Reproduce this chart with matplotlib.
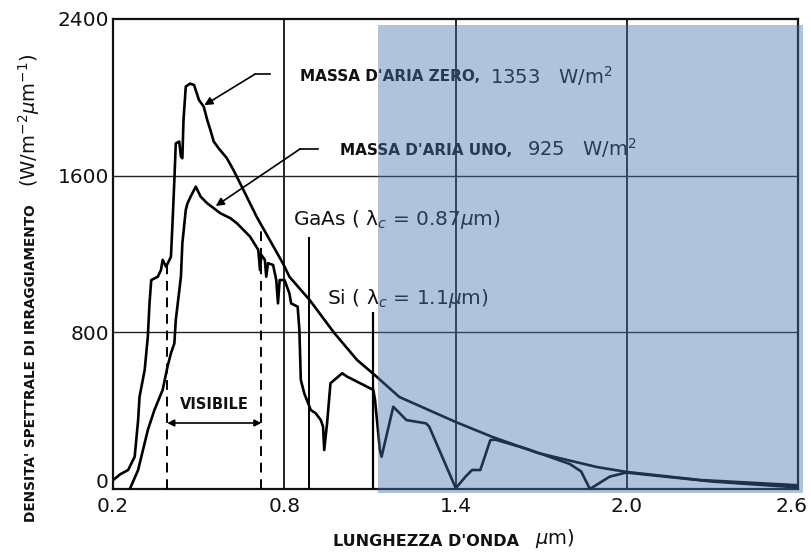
import matplotlib
matplotlib.use("Agg")
import numpy as np
import matplotlib.pyplot as plt
from matplotlib.patches import Rectangle
import matplotlib.transforms as mtransforms

# ---------------- data ----------------
am0_wl = [0.201, 0.225, 0.253, 0.276, 0.288, 0.293, 0.311, 0.322, 0.328, 0.334,
          0.357, 0.368, 0.374, 0.386, 0.403, 0.409, 0.415, 0.420, 0.432, 0.438,
          0.443, 0.447, 0.455, 0.470, 0.484, 0.501, 0.518, 0.530, 0.541, 0.553,
          0.570, 0.599, 0.622, 0.657, 0.703, 0.749, 0.795, 0.818, 0.889, 0.975,
          1.055, 1.117, 1.203, 1.401, 1.529, 1.688, 1.896, 2.000, 2.257, 2.590, 2.600]
am0_val = [46, 75, 97, 165, 352, 471, 608, 778, 950, 1067,
           1084, 1118, 1170, 1135, 1186, 1374, 1578, 1765, 1774, 1697,
           1689, 1885, 2055, 2070, 2063, 1987, 1952, 1885, 1834, 1774,
           1740, 1689, 1629, 1527, 1391, 1272, 1153, 1084, 965, 797,
           659, 582, 470, 342, 266, 184, 112, 87, 46, 20, 18]

am1_wl = [0.259, 0.288, 0.322, 0.345, 0.374, 0.391, 0.403, 0.415, 0.420, 0.438,
          0.443, 0.455, 0.461, 0.472, 0.490, 0.507, 0.530, 0.553, 0.576, 0.611,
          0.634, 0.680, 0.709, 0.715, 0.720, 0.732, 0.737, 0.743, 0.761, 0.772,
          0.778, 0.784, 0.801, 0.818, 0.824, 0.847, 0.853, 0.858, 0.870, 0.893,
          0.910, 0.928, 0.936, 0.940, 0.950, 0.962, 1.003, 1.020, 1.066, 1.112,
          1.118, 1.135, 1.141, 1.182, 1.228, 1.297, 1.308, 1.401, 1.435, 1.458,
          1.487, 1.522, 1.540, 1.650, 1.800, 1.840, 1.871, 1.940, 1.998, 2.300, 2.600]
am1_val = [0, 97, 301, 403, 506, 625, 693, 744, 863, 1084,
           1255, 1425, 1459, 1493, 1544, 1493, 1459, 1434, 1408, 1383,
           1357, 1289, 1221, 1118, 1195, 1170, 1084, 1153, 1144, 1067,
           948, 1067, 1067, 999, 948, 931, 812, 557, 489, 403,
           387, 352, 318, 199, 335, 540, 591, 574, 540, 506,
           455, 199, 165, 420, 352, 335, 318, 4, 63, 97,
           97, 250, 252, 205, 128, 90, 0, 63, 84, 38, 8]

x_ticks = [0.2, 0.8, 1.4, 2.0, 2.6]
x_ticklabels = ["0.2", "0.8", "1.4", "2.0", "2.6"]
y_ticks = [0, 800, 1600, 2400]
y_ticklabels = ["0", "800", "1600", "2400"]

visible_range = [0.39, 0.72]
gaas_line = (0.885, 1287)   # position, top
si_line = (1.11, 904)

# ---------------- figure ----------------
plt.rcParams["font.family"] = ["DejaVu Sans"]
TXT = "#111111"
fig = plt.figure(figsize=(8.11, 5.53), dpi=100)
fig.patch.set_facecolor("white")
ax = fig.add_axes([113 / 811, 1 - 489 / 553, (798 - 113) / 811, (489 - 19) / 553])
ax.set_xlim(0.2, 2.6)
ax.set_ylim(0, 2400)

for s in ax.spines.values():
    s.set_linewidth(1.6)
    s.set_color(TXT)

ax.set_xticks(x_ticks)
ax.set_xticklabels(x_ticklabels)
ax.set_yticks(y_ticks)
ax.set_yticklabels(y_ticklabels)
ax.tick_params(length=0, labelsize=14.5, colors=TXT)
ax.tick_params(axis="x", pad=6)
ax.tick_params(axis="y", pad=3)
last = ax.get_xticklabels()[-1]
last.set_transform(last.get_transform() +
                   mtransforms.ScaledTranslation(-5 / 72, 0, fig.dpi_scale_trans))
zero = ax.get_yticklabels()[0]
zero.set_transform(zero.get_transform() +
                   mtransforms.ScaledTranslation(0, 6 / 72, fig.dpi_scale_trans))

# grid
for yv in [800, 1600]:
    ax.axhline(yv, color="#222222", lw=1.0, zorder=1)
for xv in [0.8, 1.4, 2.0]:
    ax.axvline(xv, color="#222222", lw=1.4, zorder=1)

# curves
ax.plot(am0_wl, am0_val, color="black", lw=1.9, solid_joinstyle="round", zorder=4)
ax.plot(am1_wl, am1_val, color="black", lw=1.9, solid_joinstyle="round", zorder=4)

# cutoff lines
ax.vlines(gaas_line[0], 0, gaas_line[1], color="black", lw=1.4, zorder=3)
ax.vlines(si_line[0], 0, si_line[1], color="black", lw=1.6, zorder=3)

# visible range dashed lines
tops = np.interp(visible_range, am0_wl, am0_val)
ax.vlines(visible_range, 0, tops, color="black", lw=1.4,
          linestyles=(0, (5, 3.5)), zorder=3)
ax.annotate("", xy=(visible_range[0], 337), xytext=(visible_range[1], 337),
            arrowprops=dict(arrowstyle="<|-|>", lw=1.2, color="black",
                            mutation_scale=10, shrinkA=0, shrinkB=0), zorder=5)
ax.text(np.mean(visible_range), 429, "VISIBILE", ha="center", va="center",
        fontsize=10.5, fontweight="bold", color=TXT)

# leaders
ax.plot([0.698, 0.75], [2119, 2119], color="black", lw=1.2, zorder=5)
ax.annotate("", xy=(0.52, 1960), xytext=(0.698, 2119),
            arrowprops=dict(arrowstyle="-|>", lw=1.2, color="black",
                            mutation_scale=12, shrinkA=0, shrinkB=0), zorder=5)
ax.plot([0.855, 0.918], [1736, 1736], color="black", lw=1.2, zorder=5)
ax.annotate("", xy=(0.56, 1445), xytext=(0.855, 1736),
            arrowprops=dict(arrowstyle="-|>", lw=1.2, color="black",
                            mutation_scale=12, shrinkA=0, shrinkB=0), zorder=5)

# annotation texts
ax.text(0.855, 2104, "MASSA D'ARIA ZERO,", ha="left", va="center", fontsize=11,
        fontweight="bold", color=TXT, zorder=6)
ax.text(1.521, 2110, "1353   W/m$^2$", ha="left", va="center", fontsize=14,
        color=TXT, zorder=6)
ax.text(0.995, 1731, "MASSA D'ARIA UNO,", ha="left", va="center", fontsize=11,
        fontweight="bold", color=TXT, zorder=6)
ax.text(1.651, 1740, "925   W/m$^2$", ha="left", va="center", fontsize=14,
        color=TXT, zorder=6)
ax.text(0.831, 1374, r"GaAs ( λ$_c$ = 0.87$\mu$m)", ha="left", va="center",
        fontsize=14.5, color=TXT, zorder=6)
ax.text(0.95, 975, r"Si ( λ$_c$ = 1.1$\mu$m)", ha="left", va="center",
        fontsize=14.5, color=TXT, zorder=6)

# shaded overlay (infrared band beyond Si cutoff)
trans = mtransforms.blended_transform_factory(ax.transData, ax.transAxes)
shade = Rectangle((1.13, -0.0085), 2.618 - 1.13, 0.995, transform=trans,
                  facecolor=(70 / 255, 116 / 255, 174 / 255), alpha=0.43,
                  edgecolor="none", zorder=20, clip_on=False)
ax.add_patch(shade)

# axis labels
fig.text(31 / 811, 1 - 363 / 553, "DENSITA' SPETTRALE DI IRRAGGIAMENTO", rotation=90,
         ha="center", va="center", fontsize=9.8, fontweight="bold", color=TXT)
fig.text(29 / 811, 1 - 120 / 553, r"(W/m$^{-2}$$\mu$m$^{-1}$)", rotation=90,
         ha="center", va="center", fontsize=14, color=TXT)
fig.text(426 / 811, 1 - 541 / 553, "LUNGHEZZA D'ONDA", ha="center", va="center",
         fontsize=11.5, fontweight="bold", color=TXT)
fig.text(555 / 811, 1 - 539 / 553, r"$\mu$m)", ha="center", va="center",
         fontsize=14, color=TXT)

fig.savefig("out.png", dpi=100)
